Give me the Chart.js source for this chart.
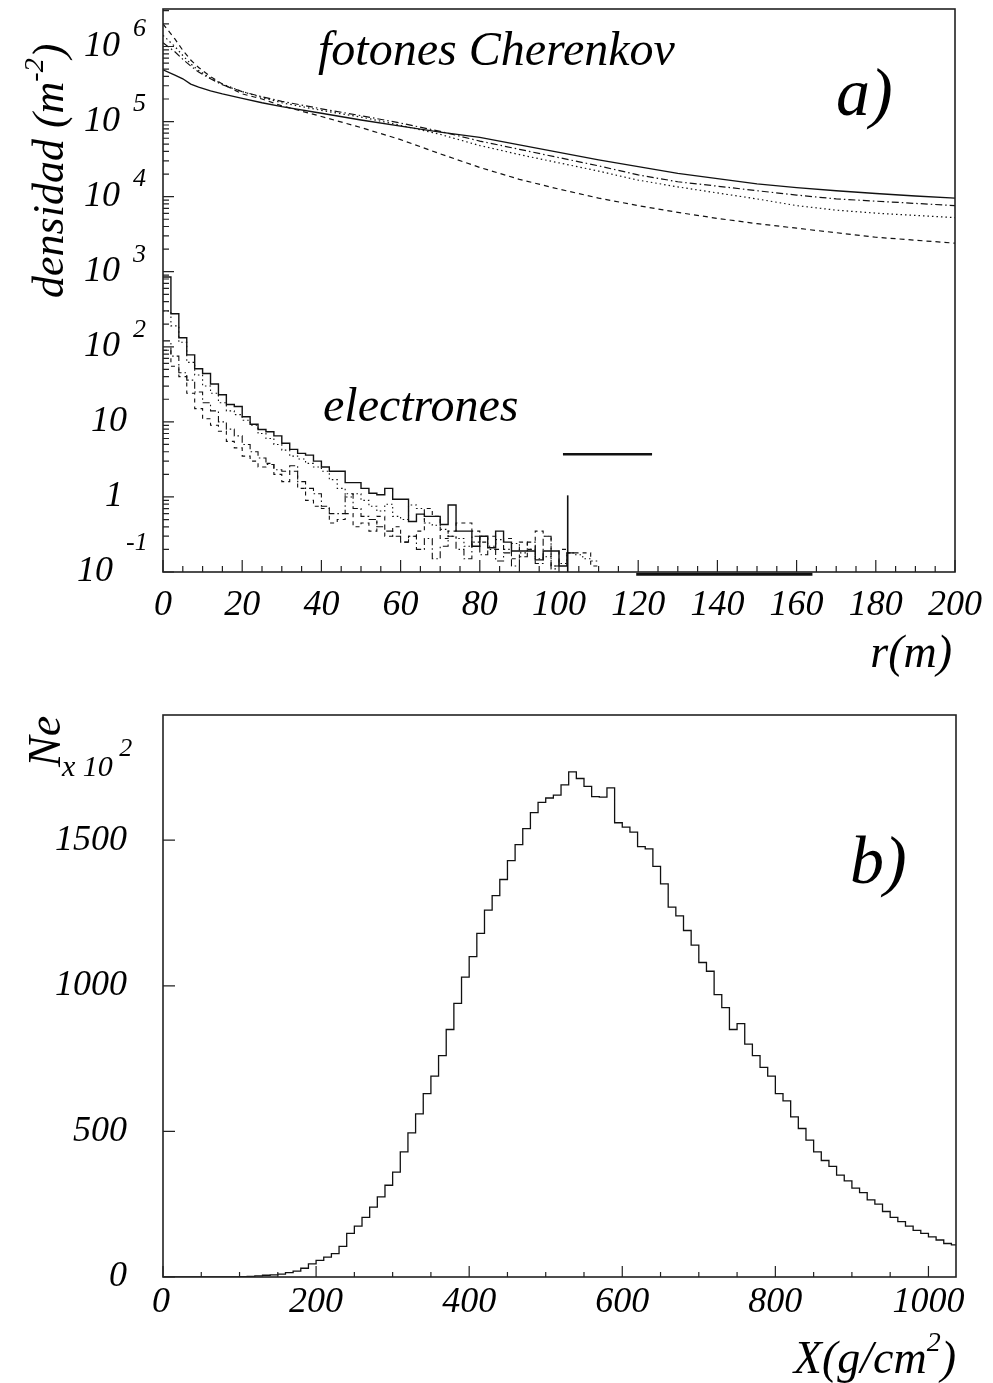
<!DOCTYPE html>
<html>
<head>
<meta charset="utf-8">
<script src="https://cdn.jsdelivr.net/npm/chart.js@4.4.0/dist/chart.umd.min.js"></script>
<style>
  html, body { margin: 0; padding: 0; background: #fff; }
  #wrap { position: relative; width: 993px; height: 1383px; }
  canvas { position: absolute; left: 0; }
  #chartA { top: 0; }
  #chartB { top: 690px; }
</style>
</head>
<body>
<div id="wrap">
  <canvas id="chartA" width="993" height="690"></canvas>
  <canvas id="chartB" width="993" height="693"></canvas>
</div>
<script>
// ---- panel a: Cherenkov photon density vs r (m) ----
const cherR = [0, 3, 5, 7, 9, 12, 15, 20, 25, 30, 40, 50, 60, 70, 80, 90, 100, 110, 120, 130, 140, 150, 160, 170, 180, 190, 200];
const cherSolid = [4.9e5, 4.17e5, 3.72e5, 3.16e5, 2.88e5, 2.57e5, 2.34e5, 2.04e5, 1.78e5, 1.58e5, 1.29e5, 1.05e5, 8.71e4, 7.24e4, 6.17e4, 4.9e4, 3.89e4, 3.09e4, 2.51e4, 2.04e4, 1.74e4, 1.48e4, 1.32e4, 1.20e4, 1.10e4, 1.02e4, 9.55e3];
const cherDashed = [2.0e6, 1.26e6, 8.91e5, 6.61e5, 5.25e5, 3.98e5, 3.16e5, 2.34e5, 2.0e5, 1.62e5, 1.17e5, 8.32e4, 5.75e4, 3.72e4, 2.45e4, 1.70e4, 1.26e4, 9.55e3, 7.59e3, 6.17e3, 5.13e3, 4.37e3, 3.8e3, 3.31e3, 2.88e3, 2.63e3, 2.4e3];
const cherDotted = [1.41e6, 1.0e6, 7.59e5, 5.89e5, 4.79e5, 3.8e5, 3.16e5, 2.51e5, 2.09e5, 1.78e5, 1.41e5, 1.15e5, 8.91e4, 6.76e4, 4.79e4, 3.63e4, 2.82e4, 2.19e4, 1.66e4, 1.35e4, 1.12e4, 9.33e3, 7.59e3, 6.61e3, 6.03e3, 5.62e3, 5.25e3];
const cherDashDot = [1.12e6, 8.51e5, 6.76e5, 5.5e5, 4.57e5, 3.72e5, 3.09e5, 2.51e5, 2.14e5, 1.86e5, 1.48e5, 1.20e5, 9.55e4, 7.41e4, 5.5e4, 4.27e4, 3.31e4, 2.57e4, 1.95e4, 1.58e4, 1.38e4, 1.20e4, 1.05e4, 9.33e3, 8.71e3, 8.13e3, 7.59e3];

// electron histograms, 2 m bins (low edges)
const elecBins = [0, 2, 4, 6, 8, 10, 12, 14, 16, 18, 20, 22, 24, 26, 28, 30, 32, 34, 36, 38, 40, 42, 44, 46, 48, 50, 52, 54, 56, 58, 60, 62, 64, 66, 68, 70, 72, 74, 76, 78, 80, 82, 84, 86, 88, 90, 92, 94, 96, 98, 100, 102, 104, 106, 108];
const elecSolid = [850, 275, 132, 78, 51, 44, 32, 23, 17, 16, 11.7, 9.3, 7.9, 7.4, 6.5, 5.2, 4.3, 3.8, 3.6, 3.0, 2.5, 2.2, 2.2, 1.55, 1.55, 1.3, 1.12, 1.07, 1.3, 0.93, 0.93, 0.47, 0.59, 0.55, 0.55, 0.43, 0.78, 0.35, 0.35, 0.22, 0.30, 0.21, 0.35, 0.25, 0.19, 0.19, 0.19, 0.145, 0.19, 0.19, 0.12, 0.18];
const elecDotted = [300, 190, 115, 62, 42, 30, 24, 18, 14, 12.5, 10.5, 9, 7, 6, 5, 4.2, 3.5, 3.2, 2.8, 2.5, 2.2, 1.7, 1.3, 1.0, 1.1, 0.9, 0.75, 0.65, 0.8, 0.55, 0.5, 0.78, 0.7, 0.45, 0.42, 0.37, 0.30, 0.28, 0.22, 0.25, 0.3, 0.22, 0.27, 0.2, 0.24, 0.18, 0.2, 0.15, 0.16, 0.12, 0.13, 0.18, 0.17, 0.15, 0.14];
const elecDashDot = [120, 75, 45, 36, 25, 18, 14, 10, 8, 6.5, 5, 4, 3.3, 2.7, 2.3, 2.2, 2.6, 1.6, 1.3, 1.1, 0.75, 0.6, 0.6, 1.1, 0.7, 0.55, 0.5, 0.4, 0.35, 0.3, 0.25, 0.3, 0.2, 0.28, 0.15, 0.22, 0.3, 0.2, 0.15, 0.3, 0.17, 0.2, 0.14, 0.18, 0.12, 0.16, 0.25, 0.13, 0.3, 0.11];
const elecDashed = [90, 55, 40, 24, 15, 11, 9, 7.5, 5.5, 4.5, 3.5, 3.0, 2.5, 2.8, 2.0, 1.6, 2.2, 1.3, 0.9, 0.75, 0.7, 0.45, 0.5, 0.6, 0.4, 0.45, 0.35, 0.55, 0.3, 0.4, 0.25, 0.3, 0.35, 0.7, 0.55, 0.28, 0.35, 0.45, 0.45, 0.35, 0.25, 0.3, 0.2, 0.28, 0.15, 0.25, 0.2, 0.35, 0.3, 0.12, 0.2, 0.18, 0.18, 0.18, 0.12];

// stray marks in the scanned figure
const spikeR = [102.2, 102.2];
const spikeVal = [0.1, 1.05];
const barR = [101, 123.5];
const barVal = [3.7, 3.7];
const lowBarR = [119.5, 164];
const lowBarVal = [0.093, 0.093];

const decadeExps = [-1, 0, 1, 2, 3, 4, 5, 6];

// ---- panel b: Ne (x 10^2) vs depth X (g/cm2), 10 g/cm2 bins ----
const depthBins = [0, 10, 20, 30, 40, 50, 60, 70, 80, 90,
  100, 110, 120, 130, 140, 150, 160, 170, 180, 190,
  200, 210, 220, 230, 240, 250, 260, 270, 280, 290,
  300, 310, 320, 330, 340, 350, 360, 370, 380, 390,
  400, 410, 420, 430, 440, 450, 460, 470, 480, 490,
  500, 510, 520, 530, 540, 550, 560, 570, 580, 590,
  600, 610, 620, 630, 640, 650, 660, 670, 680, 690,
  700, 710, 720, 730, 740, 750, 760, 770, 780, 790,
  800, 810, 820, 830, 840, 850, 860, 870, 880, 890,
  900, 910, 920, 930, 940, 950, 960, 970, 980, 990,
  1000, 1010, 1020, 1030];
const neCounts = [0, 0, 0, 0, 0, 0, 0, 0, 0, 0,
  1, 2, 4, 6, 7, 10, 15, 20, 30, 45,
  57, 68, 80, 105, 150, 175, 205, 240, 275, 315,
  360, 430, 495, 560, 630, 690, 760, 850, 940, 1030,
  1100, 1180, 1260, 1310, 1365, 1430, 1485, 1540, 1595, 1630,
  1645, 1655, 1690, 1735, 1712, 1685, 1650, 1648, 1680, 1560,
  1545, 1528, 1478, 1470, 1410, 1350, 1270, 1240, 1190, 1140,
  1080, 1050, 970, 925, 850, 870, 800, 760, 720, 690,
  630, 605, 550, 510, 470, 430, 400, 380, 350, 330,
  305, 290, 265, 250, 225, 205, 190, 175, 160, 150,
  138, 127, 115, 110];
const depthLabels = [0, 200, 400, 600, 800, 1000];
const neLabels = [0, 500, 1000, 1500];

const SERIF = '"Liberation Serif", "Times New Roman", serif';
const ital = (size) => `italic ${size}px ${SERIF}`;

function histPoints(edges, values, width) {
  const pts = values.map((v, i) => ({ x: edges[i], y: v }));
  pts.push({ x: edges[values.length - 1] + width, y: values[values.length - 1] });
  return pts;
}

function pairPoints(xs, ys) {
  return xs.map((x, i) => ({ x: x, y: ys[i] }));
}

function line(data, dash, width, extra) {
  return Object.assign({
    data: data,
    borderColor: "#111",
    borderWidth: width,
    borderDash: dash,
    pointRadius: 0,
    fill: false,
    tension: 0,
  }, extra || {});
}

// inward ticks + closed frame
function drawFrame(chart, xTicks, yTicks) {
  const { ctx, chartArea: a } = chart;
  const xs = chart.scales.x, ys = chart.scales.y;
  ctx.save();
  ctx.strokeStyle = "#222";
  ctx.lineWidth = 1.6;
  ctx.strokeRect(a.left, a.top, a.right - a.left, a.bottom - a.top);
  ctx.lineWidth = 1.2;
  ctx.beginPath();
  xTicks.forEach(([v, len]) => {
    const px = xs.getPixelForValue(v);
    ctx.moveTo(px, a.bottom);
    ctx.lineTo(px, a.bottom - len);
  });
  yTicks.forEach(([v, len]) => {
    const py = ys.getPixelForValue(v);
    ctx.moveTo(a.left, py);
    ctx.lineTo(a.left + len, py);
  });
  ctx.stroke();
  ctx.restore();
}

function linearTicks(min, max, step, major, bigLen, smallLen) {
  const out = [];
  for (let v = min; v <= max + 1e-9; v += step) {
    out.push([v, Math.abs(v % major) < 1e-9 ? bigLen : smallLen]);
  }
  return out;
}

function logTicks(exps) {
  const out = [];
  exps.forEach((n) => {
    for (let k = 1; k <= 9; k++) {
      const v = k * Math.pow(10, n);
      if (v <= 3.16e6) out.push([v, k === 1 ? 11 : 6]);
    }
  });
  return out;
}

function supText(ctx, parts, x, y) {
  // parts: [text, size, raise]
  let cx = x;
  parts.forEach(([t, size, raise]) => {
    ctx.font = ital(size);
    ctx.fillText(t, cx, y - raise);
    cx += ctx.measureText(t).width;
  });
  return cx;
}

function partsWidth(ctx, parts) {
  let w = 0;
  parts.forEach(([t, size]) => {
    ctx.font = ital(size);
    w += ctx.measureText(t).width;
  });
  return w;
}

const noPad = (s) => {
  s.paddingTop = 0;
  s.paddingBottom = 0;
  s.paddingLeft = 0;
  s.paddingRight = 0;
};

const panelAText = {
  id: "panelAText",
  afterDraw(chart) {
    const ctx = chart.ctx;
    const ys = chart.scales.y;
    drawFrame(chart, linearTicks(0, 200, 5, 20, 12, 6), logTicks(decadeExps));
    ctx.save();
    ctx.fillStyle = "#000";
    ctx.textBaseline = "middle";
    decadeExps.forEach((n) => {
      const py = ys.getPixelForValue(Math.pow(10, n));
      ctx.font = ital(36);
      ctx.textAlign = "right";
      if (n === 0) {
        ctx.fillText("1", 123, py);
      } else if (n === 1) {
        ctx.fillText("10", 127, py);
      } else if (n === -1) {
        ctx.fillText("10", 113, py);
        ctx.font = ital(26);
        ctx.textAlign = "left";
        ctx.fillText("-1", 126, py - 29);
      } else {
        ctx.fillText("10", 120, py);
        ctx.font = ital(26);
        ctx.textAlign = "left";
        ctx.fillText(String(n), 133, py - 17);
      }
    });
    ctx.textBaseline = "alphabetic";
    ctx.textAlign = "left";
    ctx.font = ital(48);
    ctx.fillText("fotones Cherenkov", 318, 65);
    ctx.fillText("electrones", 323, 421);
    ctx.font = ital(68);
    ctx.fillText("a)", 836, 115);
    const rParts = [["r(m)", 46, 0]];
    supText(ctx, rParts, 952 - partsWidth(ctx, rParts), 667);
    // rotated y title
    ctx.translate(63, 298);
    ctx.rotate(-Math.PI / 2);
    supText(ctx, [["densidad (m", 44, 0], ["-2", 28, 20], [")", 44, 0]], 0, 0);
    ctx.restore();
  },
};

const panelBText = {
  id: "panelBText",
  afterDraw(chart) {
    const ctx = chart.ctx;
    const xs = chart.scales.x, ys = chart.scales.y;
    const a = chart.chartArea;
    drawFrame(chart, linearTicks(0, 1000, 50, 200, 11, 5), linearTicks(0, 1500, 500, 500, 12, 12));
    ctx.save();
    ctx.fillStyle = "#000";
    ctx.font = ital(36);
    ctx.textBaseline = "middle";
    ctx.textAlign = "center";
    depthLabels.forEach((v) => {
      ctx.fillText(String(v), xs.getPixelForValue(v) + (v === 0 ? -2 : 0), a.bottom + 26);
    });
    ctx.textAlign = "right";
    neLabels.forEach((v) => {
      ctx.fillText(String(v), 127, ys.getPixelForValue(v));
    });
    ctx.textAlign = "left";
    ctx.textBaseline = "alphabetic";
    ctx.font = ital(68);
    ctx.fillText("b)", 850, 193);
    const xParts = [["X(g/cm", 46, 0], ["2", 28, 22], [")", 46, 0]];
    supText(ctx, xParts, 956 - partsWidth(ctx, xParts), 683);
    supText(ctx, [["x 10", 30, 0], [" 2", 26, 20]], 62, 86);
    ctx.translate(60, 77);
    ctx.rotate(-Math.PI / 2);
    ctx.font = ital(46);
    ctx.fillText("Ne", 0, 0);
    ctx.restore();
  },
};

const tickFont = { family: SERIF, size: 36, style: "italic" };

new Chart(document.getElementById("chartA").getContext("2d"), {
  type: "line",
  data: {
    datasets: [
      line(pairPoints(cherR, cherSolid), [], 1.4),
      line(pairPoints(cherR, cherDashed), [5, 4], 1.2),
      line(pairPoints(cherR, cherDotted), [1.5, 3], 1.2),
      line(pairPoints(cherR, cherDashDot), [7, 3, 1.5, 3], 1.2),
      line(histPoints(elecBins, elecDotted, 2), [1.5, 3], 1.1, { stepped: "before" }),
      line(histPoints(elecBins, elecDashDot, 2), [7, 3, 1.5, 3], 1.1, { stepped: "before" }),
      line(histPoints(elecBins, elecDashed, 2), [4, 4], 1.1, { stepped: "before" }),
      line(histPoints(elecBins, elecSolid, 2), [], 1.4, { stepped: "before" }),
      line(pairPoints(spikeR, spikeVal), [], 1.6),
      line(pairPoints(barR, barVal), [], 2.6),
      line(pairPoints(lowBarR, lowBarVal), [], 3, { clip: false }),
    ],
  },
  options: {
    responsive: false,
    animation: false,
    layout: { padding: { top: 9, right: 38, left: 0, bottom: 0 } },
    plugins: { legend: { display: false }, tooltip: { enabled: false } },
    scales: {
      x: {
        type: "linear",
        min: 0,
        max: 200,
        grid: { display: false },
        border: { display: false },
        ticks: { stepSize: 20, padding: 4, color: "#000", font: tickFont, maxRotation: 0, autoSkip: false },
        afterFit: (s) => { s.height = 118; noPad(s); },
      },
      y: {
        type: "logarithmic",
        min: 0.1,
        max: 3.16e6,
        grid: { display: false },
        border: { display: false },
        ticks: { display: false },
        afterFit: (s) => { s.width = 163; noPad(s); },
      },
    },
  },
  plugins: [panelAText],
});

new Chart(document.getElementById("chartB").getContext("2d"), {
  type: "line",
  data: {
    datasets: [
      line(histPoints(depthBins, neCounts, 10), [], 1.3, { stepped: "before" }),
    ],
  },
  options: {
    responsive: false,
    animation: false,
    layout: { padding: { top: 25, right: 37, left: 0, bottom: 0 } },
    plugins: { legend: { display: false }, tooltip: { enabled: false } },
    scales: {
      x: {
        type: "linear",
        min: 0,
        max: 1036,
        grid: { display: false },
        border: { display: false },
        ticks: { display: false },
        afterFit: (s) => { s.height = 106; noPad(s); },
      },
      y: {
        type: "linear",
        min: 0,
        max: 1930,
        grid: { display: false },
        border: { display: false },
        ticks: { display: false },
        afterFit: (s) => { s.width = 163; noPad(s); },
      },
    },
  },
  plugins: [panelBText],
});
</script>
</body>
</html>
